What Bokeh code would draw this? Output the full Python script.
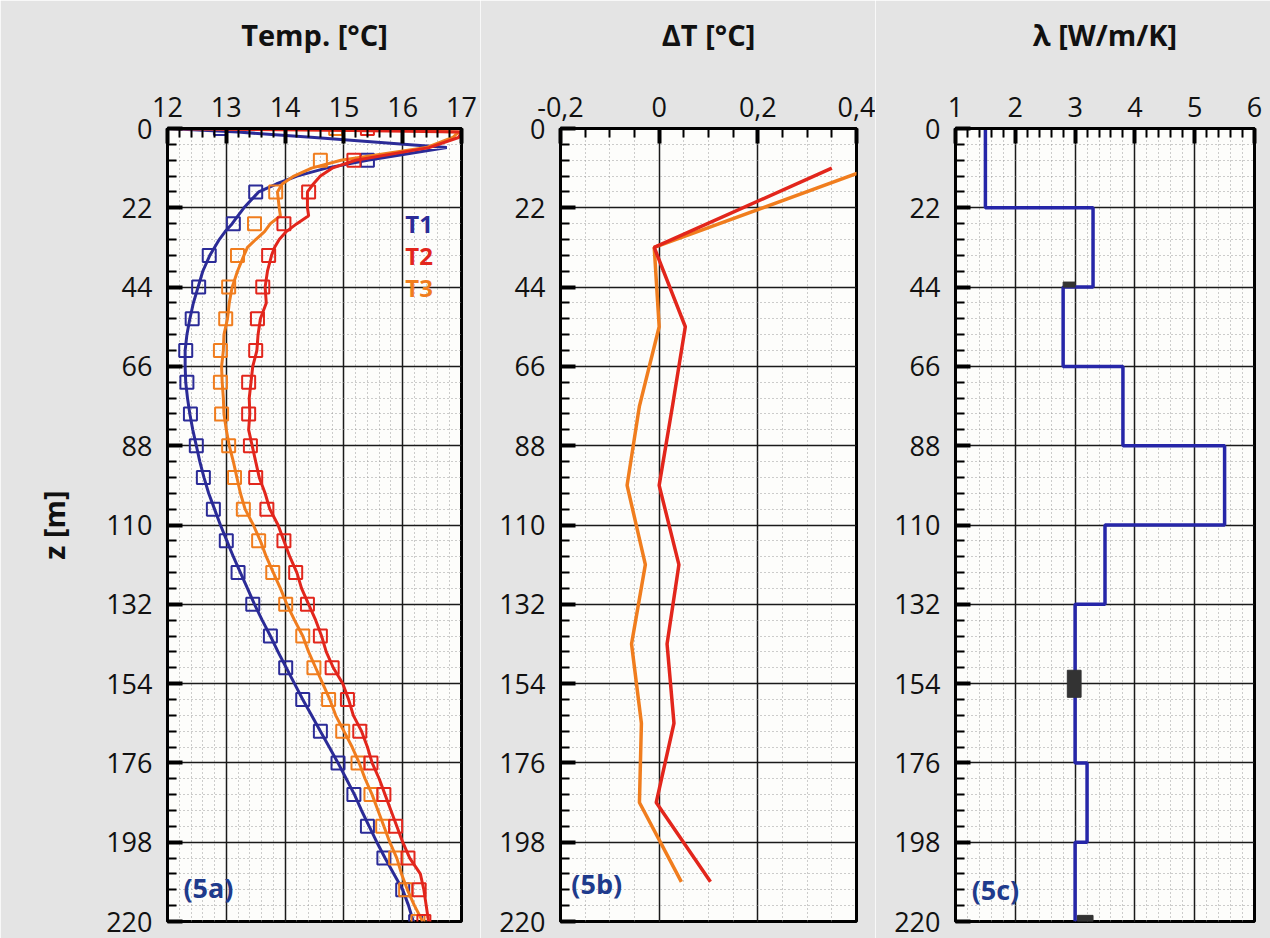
from bokeh.plotting import figure
from bokeh.layouts import row
from bokeh.models import Range1d, FixedTicker
from bokeh.core.properties import value
from bokeh.embed import file_html
from bokeh.resources import INLINE

# ---------------- data ----------------
depth_ticks = [0, 22, 44, 66, 88, 110, 132, 154, 176, 198, 220]

# panel 5a: measured temperatures (squares)
z_sq = [0, 8.8, 17.6, 26.4, 35.2, 44.0, 52.8, 61.6, 70.4, 79.2, 88.0, 96.8, 105.6,
        114.4, 123.2, 132.0, 140.8, 149.6, 158.4, 167.2, 176.0, 184.8, 193.6, 202.4, 211.2, 220.0]
t1_sq = [12.9, 15.4, 13.5, 13.12, 12.71, 12.53, 12.42, 12.31, 12.33, 12.39, 12.49, 12.61, 12.78,
         13.0, 13.2, 13.45, 13.75, 14.01, 14.3, 14.6, 14.9, 15.17, 15.4, 15.68, 16.0, 16.22]
t2_sq = [15.4, 15.17, 14.4, 13.98, 13.72, 13.62, 13.53, 13.5, 13.38, 13.38, 13.41, 13.5, 13.69,
         13.98, 14.18, 14.38, 14.6, 14.8, 15.06, 15.27, 15.46, 15.68, 15.88, 16.09, 16.28, 16.36]
t3_sq = [14.86, 14.6, 13.84, 13.48, 13.19, 13.04, 12.99, 12.9, 12.9, 12.92, 13.04, 13.14, 13.29,
         13.55, 13.79, 14.01, 14.3, 14.49, 14.74, 14.98, 15.24, 15.46, 15.66, 15.88, 16.05, 16.26]

# panel 5a: computed temperature profiles (lines)
z_line = [0, 0.5, 1.0, 2.5, 5.3, 8.8, 11.0, 13.2, 15.4, 17.6, 22.0, 24.2, 26.4, 28.6, 30.8, 33.0,
          35.2, 39.6, 44.0, 48.4, 52.8, 57.2, 61.6, 66.0, 70.4, 74.8, 79.2, 83.6, 88.0, 92.4,
          96.8, 101.2, 105.6, 110.0, 114.4, 118.8, 123.2, 127.6, 132.0, 136.4, 140.8, 145.2,
          149.6, 154.0, 158.4, 162.8, 167.2, 171.6, 176.0, 180.4, 184.8, 189.2, 193.6, 198.0,
          202.4, 206.8, 211.2, 215.6, 220.0]
t1_line = [12.0, 12.6, 13.2, 14.5, 16.75, 15.4, 14.7, 14.2, 13.85, 13.55, 13.3, 13.2, 13.1, 12.98,
           12.88, 12.8, 12.72, 12.6, 12.52, 12.44, 12.38, 12.33, 12.3, 12.3, 12.31, 12.34, 12.38,
           12.43, 12.49, 12.55, 12.62, 12.7, 12.8, 12.9, 13.01, 13.12, 13.24, 13.36, 13.48, 13.61,
           13.75, 13.88, 14.02, 14.16, 14.3, 14.45, 14.6, 14.75, 14.9, 15.04, 15.18, 15.3, 15.43,
           15.56, 15.7, 15.85, 16.0, 16.1, 16.18]
t2_line = [12.0, 14.8, 17.0, 16.95, 16.45, 15.2, 14.8, 14.6, 14.48, 14.38, 14.38, 14.4, 14.2, 14.02,
           13.9, 13.82, 13.77, 13.7, 13.66, 13.68, 13.58, 13.54, 13.52, 13.45, 13.42, 13.39, 13.40,
           13.38, 13.44, 13.5, 13.56, 13.66, 13.74, 13.88, 13.98, 14.08, 14.2, 14.28, 14.4, 14.52,
           14.62, 14.7, 14.82, 14.98, 15.08, 15.16, 15.3, 15.4, 15.48, 15.6, 15.7, 15.8, 15.9,
           16.0, 16.12, 16.3, 16.36, 16.4, 16.44]
t3_line = [12.0, 16.0, 16.95, 16.85, 16.4, 14.95, 14.45, 14.15, 13.95, 13.87, 13.9, 13.92, 13.75,
           13.65, 13.5, 13.36, 13.3, 13.19, 13.1, 13.05, 13.02, 12.96, 12.95, 12.92, 12.93, 12.95,
           12.96, 13.0, 13.05, 13.12, 13.18, 13.24, 13.32, 13.46, 13.58, 13.68, 13.8, 13.92, 14.03,
           14.16, 14.3, 14.4, 14.52, 14.64, 14.76, 14.86, 15.0, 15.14, 15.26, 15.36, 15.48, 15.58,
           15.68, 15.78, 15.9, 15.98, 16.08, 16.2, 16.34]
series_names = ["T1", "T2", "T3"]

# panel 5b: temperature differences
z_dt = [11, 33, 55, 77, 99, 121, 143, 165, 187, 209]
dt2 = [0.35, -0.01, 0.053, 0.027, 0.0, 0.04, 0.016, 0.03, -0.006, 0.104]
dt3 = [0.43, -0.01, 0.0, -0.04, -0.065, -0.028, -0.056, -0.036, -0.04, 0.045]

# panel 5c: thermal conductivity by layer
layer_top = [0, 22, 44, 66, 88, 110, 132, 176, 198]
layer_bot = [22, 44, 66, 88, 110, 132, 176, 198, 220]
layer_lam = [1.5, 3.3, 2.8, 3.8, 5.5, 3.5, 3.0, 3.2, 3.0]
# measured conductivity (value range and depth range)
meas_lam_lo = [2.8, 2.87, 3.04]
meas_lam_hi = [3.0, 3.1, 3.3]
meas_z_top = [42.6, 150.3, 218.3]
meas_z_bot = [44.0, 157.8, 220.0]

# ---------------- style ----------------
BG = "#e4e4e4"
BLUE = "#2b2b97"
RED = "#e2261c"
ORANGE = "#f07d1e"
LBL = "#1f3b8c"
FONT = "Open Sans"

depth_minor = [round(i * 4.4, 1) for i in range(51)]


def make_fig(width, frame_left, border_right, xr, xticks, xminor, title, overrides=None):
    p = figure(width=width, height=938, x_range=Range1d(*xr), y_range=Range1d(220, 0),
               x_axis_location="above", output_backend="svg", toolbar_location=None,
               min_border_left=frame_left, min_border_right=border_right,
               min_border_top=128, min_border_bottom=17)
    p.background_fill_color = "#fdfdfb"
    p.border_fill_color = BG
    p.outline_line_color = "black"
    p.outline_line_width = 3

    xt = FixedTicker(ticks=xticks, minor_ticks=xminor)
    yt = FixedTicker(ticks=depth_ticks, minor_ticks=depth_minor)
    p.xaxis.ticker = xt
    p.yaxis.ticker = yt
    p.xgrid.ticker = xt
    p.ygrid.ticker = yt
    if overrides:
        p.xaxis.major_label_overrides = overrides

    for ax in (p.xaxis, p.yaxis):
        ax.axis_line_width = 3
        ax.axis_line_color = "black"
        ax.major_tick_out = 0
        ax.major_tick_in = 15
        ax.major_tick_line_width = 4
        ax.minor_tick_out = 0
        ax.minor_tick_in = 9
        ax.minor_tick_line_width = 2
        ax.major_label_text_font = FONT
        ax.major_label_text_font_size = "27px"
        ax.major_label_text_color = "#111111"
        ax.axis_label_text_font = FONT
        ax.axis_label_text_font_style = "bold"
        ax.axis_label_text_font_size = "29px"
        ax.axis_label_text_color = "#111111"
    p.xaxis.major_label_standoff = 12
    p.yaxis.major_label_standoff = 15
    p.xaxis.axis_label = title
    p.xaxis.axis_label_standoff = 40

    for g in (p.xgrid, p.ygrid):
        g.grid_line_color = "#1a1a1a"
        g.grid_line_width = 1.5
        g.minor_grid_line_color = "#9a9a9a"
        g.minor_grid_line_dash = "1 3"
        g.minor_grid_line_width = 1
    return p


# ---- panel a
pa = make_fig(480, 167, 19, (12, 17), [12, 13, 14, 15, 16, 17],
              [round(12 + i * 0.2, 1) for i in range(26)], "Temp. [°C]")
pa.yaxis.axis_label = "z [m]"
pa.yaxis.axis_label_standoff = 30

for tl, ts, col in ((t1_line, t1_sq, BLUE), (t3_line, t3_sq, ORANGE), (t2_line, t2_sq, RED)):
    pa.line(tl, z_line, line_color=col, line_width=3)
    pa.scatter(ts, z_sq, marker="square", size=13, fill_color=None,
               line_color=col, line_width=2)

pa.text(x=[16.28, 16.28, 16.28], y=[26.4, 35.2, 44.0], text=series_names,
        text_color=[BLUE, RED, ORANGE], text_font=value(FONT), text_font_style="bold",
        text_font_size="24px", text_align="center", text_baseline="middle")
pa.text(x=[12.27], y=[210.5], text=["(5a)"], text_color=LBL, text_font=value(FONT),
        text_font_style="bold", text_font_size="27px", text_align="left",
        text_baseline="middle")

# ---- panel b
pb = make_fig(395, 80, 19, (-0.2, 0.4), [-0.2, 0, 0.2, 0.4],
              [round(-0.2 + i * 0.05, 2) for i in range(13)], "ΔT [°C]",
              overrides={-0.2: "-0,2", 0: "0", 0.2: "0,2", 0.4: "0,4"})
pb.line(dt3, z_dt, line_color=ORANGE, line_width=3.5)
pb.line(dt2, z_dt, line_color=RED, line_width=3.5)
pb.text(x=[-0.178], y=[209.5], text=["(5b)"], text_color=LBL, text_font=value(FONT),
        text_font_style="bold", text_font_size="27px", text_align="left",
        text_baseline="middle")

# ---- panel c
pc = make_fig(395, 80, 16, (1, 6), [1, 2, 3, 4, 5, 6],
              [round(1 + i * 0.2, 1) for i in range(26)], "λ [W/m/K]")
lam_x = []
lam_z = []
for lt, lb, lv in zip(layer_top, layer_bot, layer_lam):
    lam_x += [lv, lv]
    lam_z += [lt, lb]
pc.line(lam_x, lam_z, line_color="#2626a8", line_width=3.5)
pc.quad(left=meas_lam_lo, right=meas_lam_hi, top=meas_z_top, bottom=meas_z_bot,
        fill_color="#333333", line_color="#333333")
pc.text(x=[1.27], y=[211], text=["(5c)"], text_color=LBL, text_font=value(FONT),
        text_font_style="bold", text_font_size="27px", text_align="left",
        text_baseline="middle")

layout = row(pa, pb, pc, spacing=0)
html = file_html(layout, INLINE)
html = html.replace("<body>", '<body style="background-color:%s;">' % BG, 1)
open("out.html", "w").write(html)
